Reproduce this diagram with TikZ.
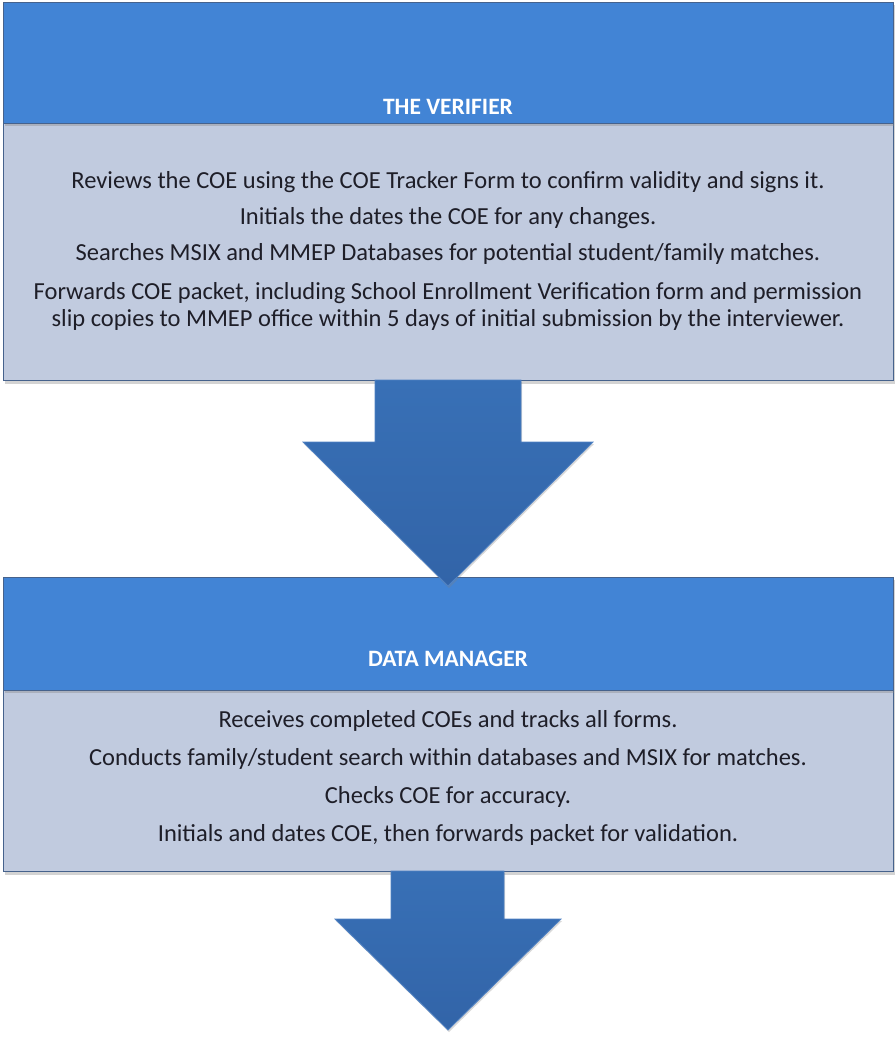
\documentclass[tikz,border=0pt]{standalone}
\usepackage{fontspec}
\setmainfont{Carlito}
\usetikzlibrary{shadows}
\definecolor{hdrblue}{RGB}{66,132,213}
\definecolor{bodygray}{RGB}{193,203,223}
\definecolor{edgeblue}{RGB}{70,98,140}
\definecolor{arrowtop}{RGB}{56,112,182}
\definecolor{arrowbot}{RGB}{50,100,168}
\definecolor{arrowedge}{RGB}{80,130,195}
\definecolor{textdark}{RGB}{30,30,40}
\tikzset{
  hdrbox/.style={draw=edgeblue, line width=1.2pt, fill=hdrblue, inner sep=0pt, anchor=north west,
    drop shadow={shadow xshift=1pt, shadow yshift=-2pt, opacity=0.35}},
  bodybox/.style={draw=edgeblue, line width=1.2pt, fill=bodygray, inner sep=0pt, anchor=north west,
    drop shadow={shadow xshift=1pt, shadow yshift=-3pt, opacity=0.35}},
  hdrtext/.style={text=white, font=\bfseries\fontsize{23.5}{26}\selectfont, inner sep=0pt},
  bodytext/.style={text=textdark, font=\fontsize{24.5}{27}\selectfont, align=center, inner sep=0pt},
  flowarrow/.style={top color=arrowtop, bottom color=arrowbot, draw=arrowedge, line width=0.8pt, line join=miter,
    drop shadow={shadow xshift=1pt, shadow yshift=-2pt, opacity=0.3}}
}
\begin{document}
\begin{tikzpicture}[x=1pt,y=-1pt]
\useasboundingbox (0,0) rectangle (896,1038);
% ---------- Box 1 ----------
\node[bodybox, minimum width=890pt, minimum height=258pt] (b1) at (3,122) {};
\node[hdrbox, minimum width=890pt, minimum height=121pt] (h1) at (3,2) {};
\node[hdrtext] (t1) at (448,107) {THE VERIFIER};
\node[bodytext] (l11) at (448,182) {Reviews the COE using the COE Tracker Form to confirm validity and signs it.};
\node[bodytext] (l12) at (448,218) {Initials the dates the COE for any changes.};
\node[bodytext] (l13) at (448,254) {Searches MSIX and MMEP Databases for potential student/family matches.};
\node[bodytext] (l14) at (448,293) {Forwards COE packet, including School Enrollment Verification form and permission};
\node[bodytext] (l15) at (448,320) {slip copies to MMEP office within 5 days of initial submission by the interviewer.};
% ---------- Box 2 ----------
\node[bodybox, minimum width=890pt, minimum height=182pt] (b2) at (3,689) {};
\node[hdrbox, minimum width=890pt, minimum height=113pt] (h2) at (3,577) {};
\node[hdrtext] (t2) at (448,659) {DATA MANAGER};
\node[bodytext] (l21) at (448,721) {Receives completed COEs and tracks all forms.};
\node[bodytext] (l22) at (448,759) {Conducts family/student search within databases and MSIX for matches.};
\node[bodytext] (l23) at (448,797) {Checks COE for accuracy.};
\node[bodytext] (l24) at (448,835) {Initials and dates COE, then forwards packet for validation.};
% ---------- Arrow 1 (drawn over box 2's top edge) ----------
\draw[flowarrow] (375,380) -- (521,380) -- (521,442) -- (593,442) -- (448,586) -- (303,442) -- (375,442) -- cycle;
% ---------- Arrow 2 ----------
\draw[flowarrow] (391,871) -- (504,871) -- (504,919) -- (561,919) -- (448,1030) -- (335,919) -- (391,919) -- cycle;
\end{tikzpicture}
\end{document}
